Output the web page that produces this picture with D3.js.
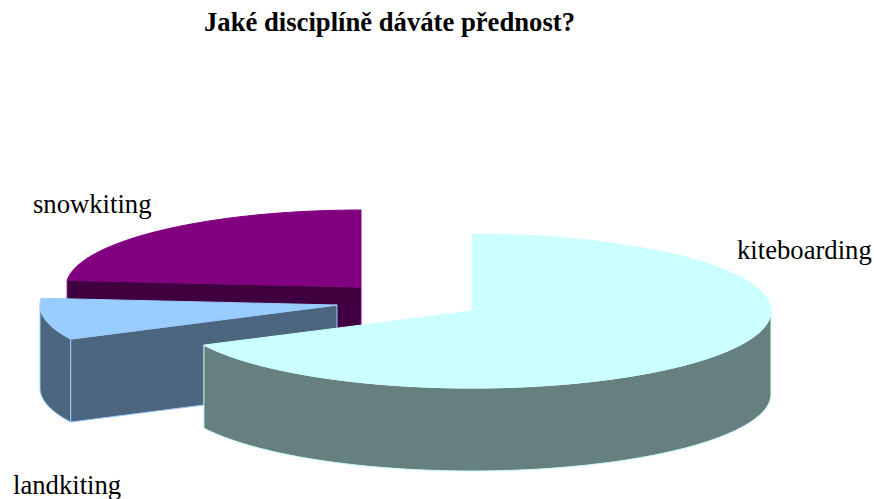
<!DOCTYPE html>
<html>
<head>
<meta charset="utf-8">
<script src="https://cdn.jsdelivr.net/npm/d3@7"></script>
<style>
  html, body { margin: 0; padding: 0; background: #fff; }
  text { font-family: "Liberation Serif", serif; fill: #000; }
</style>
</head>
<body>
<div id="chart"></div>
<script>
// values (percent)
const categories = ["kiteboarding", "landkiting", "snowkiting"];
const shares = [67.7, 8.7, 23.6];
const chartTitle = "Jaké disciplíně dáváte přednost?";

const topColors = ["#ccffff", "#99ccff", "#800080"];
const sideColors = ["#667f7f", "#4d667f", "#400040"];

// where the centre of each exploded slice sits
const originsX = [472, 337, 361];
const originsY = [311, 305, 287];
const radiiX = [299, 297, 295];
const labelsX = [737, 13, 33];
const labelsY = [259, 494, 213];

const width = 874, height = 499;
const ry = 77, depth = 83;

const svg = d3.select("#chart").append("svg")
    .attr("width", width)
    .attr("height", height)
    .style("display", "block");

const pie = d3.pie().sort(null).value(d => d);
const slices = pie(shares);

// unit circle -> ellipse, angle runs clockwise from 12 o'clock
const ey = d3.scaleLinear().domain([-1, 1]).range([-ry, ry]);
const py = a => ey(-Math.cos(a));

const line = d3.line();

// back slices first so the big one covers them
const order = [2, 1, 0];

order.forEach(i => {
    const s = slices[i];
    const ex = d3.scaleLinear().domain([-1, 1]).range([-radiiX[i], radiiX[i]]);
    const px = a => ex(Math.sin(a));

    function arcPoints(a0, a1, dy) {
        const n = Math.max(2, Math.ceil((a1 - a0) / 0.02));
        return d3.range(n + 1).map(k => {
            const a = a0 + (a1 - a0) * k / n;
            return [px(a), py(a) + dy];
        });
    }

    const g = svg.append("g")
        .attr("transform", `translate(${originsX[i]},${originsY[i]})`);

    // outer wall, only the part of the rim facing the viewer
    const w0 = Math.max(s.startAngle, Math.PI / 2);
    const w1 = Math.min(s.endAngle, Math.PI * 3 / 2);
    if (w1 > w0) {
        const pts = arcPoints(w0, w1, 0).concat(arcPoints(w0, w1, depth).reverse());
        g.append("path")
            .attr("d", line(pts) + "Z")
            .attr("fill", sideColors[i])
            .attr("stroke", topColors[i])
            .attr("stroke-width", 1);
    }

    // cut face on the start edge when it looks toward us
    if (s.startAngle > Math.PI && s.startAngle < 2 * Math.PI) {
        const x = px(s.startAngle), y = py(s.startAngle);
        g.append("path")
            .attr("d", line([[0, 0], [x, y], [x, y + depth], [0, depth]]) + "Z")
            .attr("fill", sideColors[i])
            .attr("stroke", topColors[i])
            .attr("stroke-width", 1);
    }

    // lid
    const lid = [[0, 0]].concat(arcPoints(s.startAngle, s.endAngle, 0));
    g.append("path")
        .attr("d", line(lid) + "Z")
        .attr("fill", topColors[i])
        .attr("stroke", topColors[i])
        .attr("stroke-width", 1);
});

svg.append("text")
    .attr("x", 389.5)
    .attr("y", 31)
    .attr("text-anchor", "middle")
    .attr("font-size", 26.67)
    .attr("font-weight", "bold")
    .text(chartTitle);

svg.selectAll(".label")
    .data(categories)
    .join("text")
    .attr("class", "label")
    .attr("x", (d, i) => labelsX[i])
    .attr("y", (d, i) => labelsY[i])
    .attr("font-size", 26.67)
    .text(d => d);
</script>
</body>
</html>
